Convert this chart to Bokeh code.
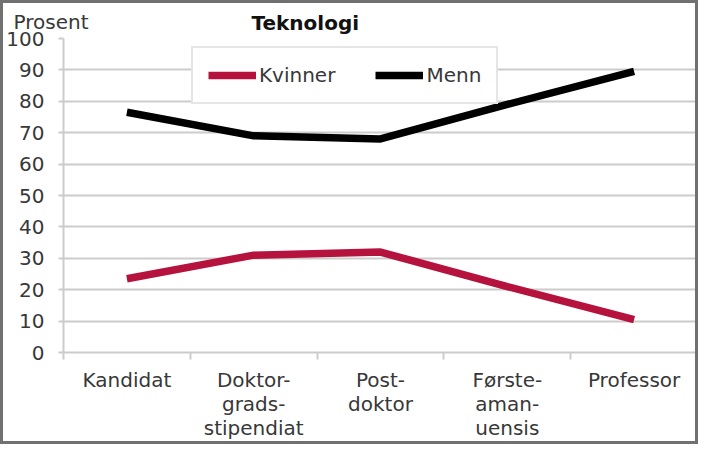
from bokeh.plotting import figure
from bokeh.models import Range1d, FixedTicker, Legend, LegendItem, Label, Title
from bokeh.embed import file_html
from bokeh.resources import INLINE

categories = ["Kandidat", "Doktor-\ngrads-\nstipendiat", "Post-\ndoktor", "Første-\naman-\nuensis", "Professor"]
kvinner = [23.5, 31, 32, 21, 10.5]
menn = [76.5, 69, 68, 79, 89.5]
y_ticks = [0, 10, 20, 30, 40, 50, 60, 70, 80, 90, 100]

xs = list(range(1, len(categories) + 1))
FONT = "DejaVu Sans"
TXT = "#383838"
GRID = "#cccccc"
FS = "20px"

p = figure(width=698, height=444, output_backend="svg", toolbar_location=None,
           x_range=Range1d(0.5, len(categories) + 0.5), y_range=Range1d(0, 100),
           min_border_left=59, min_border_right=4, min_border_top=35, min_border_bottom=95,
           styles={"border": "3px solid #707070"})
p.outline_line_color = None
p.background_fill_color = "white"

r_k = p.line(xs, kvinner, line_color="#b5123d", line_width=7.5)
r_m = p.line(xs, menn, line_color="black", line_width=7.5)

p.xgrid.visible = False
p.ygrid.grid_line_color = GRID
p.ygrid.grid_line_width = 2

p.yaxis.ticker = FixedTicker(ticks=y_ticks)
p.yaxis.axis_line_color = GRID
p.yaxis.axis_line_width = 2
p.yaxis.major_tick_line_color = GRID
p.yaxis.major_tick_line_width = 2
p.yaxis.major_tick_out = 5
p.yaxis.major_tick_in = 0
p.yaxis.minor_tick_line_color = None
p.yaxis.major_label_text_font = FONT
p.yaxis.major_label_text_font_size = FS
p.yaxis.major_label_text_color = TXT
p.yaxis.major_label_standoff = 14

boundaries = [i + 0.5 for i in range(0, len(categories) + 1)]
p.xaxis.ticker = FixedTicker(ticks=xs, minor_ticks=boundaries)
p.xaxis.major_label_overrides = {i + 1: c for i, c in enumerate(categories)}
p.xaxis.major_tick_line_color = None
p.xaxis.major_tick_out = 0
p.xaxis.minor_tick_line_color = GRID
p.xaxis.minor_tick_line_width = 2
p.xaxis.minor_tick_out = 7
p.xaxis.minor_tick_in = 0
p.xaxis.axis_line_color = GRID
p.xaxis.axis_line_width = 2
p.xaxis.major_label_text_font = FONT
p.xaxis.major_label_text_font_size = FS
p.xaxis.major_label_text_color = TXT
p.xaxis.major_label_text_line_height = 1.0
p.xaxis.major_label_standoff = 8

legend = Legend(items=[LegendItem(label="Kvinner", renderers=[r_k]),
                       LegendItem(label="Menn", renderers=[r_m])],
                orientation="horizontal", location=(128, 248),
                label_text_font=FONT, label_text_font_size=FS, label_text_color=TXT,
                glyph_width=48, glyph_height=20, spacing=40, padding=15, margin=0,
                label_standoff=3,
                border_line_color=GRID, border_line_width=2,
                background_fill_color="white", background_fill_alpha=1)
p.add_layout(legend, "center")

# chart title, in the panel above the plot area
p.add_layout(Label(x=188, y=4, x_units="screen", y_units="screen", text="Teknologi",
                   text_font=FONT, text_font_size=FS, text_font_style="bold",
                   text_color="#111111", text_baseline="bottom"), "above")
# unit text at the top left, as an outer title
p.add_layout(Title(text="\nProsent", align="left", offset=-50, standoff=-40,
                   vertical_align="bottom", text_line_height=0.7,
                   text_font=FONT, text_font_size=FS, text_font_style="normal",
                   text_color=TXT), "above")

open("out.html", "w").write(file_html(p, INLINE))
